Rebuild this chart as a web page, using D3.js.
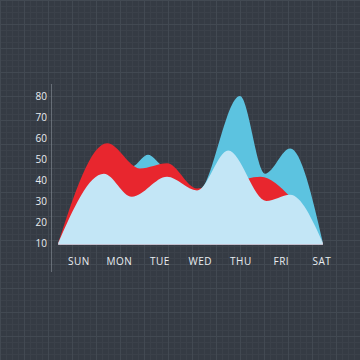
<!DOCTYPE html>
<html><head><meta charset="utf-8">
<script src="https://cdn.jsdelivr.net/npm/d3@7"></script>
<style>html,body{margin:0;padding:0;background:#353b44;}svg{display:block;}</style>
</head><body>
<svg id="c" width="360" height="360"></svg>
<script>
// Data (x in day units: 0 = SUN ... 6 = SAT)
const days = ["SUN","MON","TUE","WED","THU","FRI","SAT"];
const yTicks = [10,20,30,40,50,60,70,80];
const darkX = [-0.50, 0.63, 1.40, 1.72, 2.05, 2.93, 3.99, 4.61, 5.23, 6.04];
const darkV = [10, 40, 47, 52, 47, 34, 80, 43, 55, 10];
const redX  = [-0.50, 0.71, 1.52, 2.19, 2.93, 3.82, 4.50, 5.23, 6.04];
const redV  = [10, 57.5, 45.5, 48, 36, 39, 41.5, 32, 10];
const lightX = [-0.50, 0.63, 1.32, 2.19, 2.93, 3.70, 4.64, 5.23, 6.04];
const lightV = [10, 43, 32, 41.5, 35, 54, 30, 33, 10];

const svg = d3.select("#c");
const W = 360, H = 360;

// background grid
const bg = svg.append("g");
bg.append("rect").attr("width", W).attr("height", H).attr("fill", "#353b44");
const minor = d3.range(0, W + 1, 6);
bg.selectAll(".mv").data(minor).join("line")
  .attr("x1", d => d + 0.5).attr("x2", d => d + 0.5).attr("y1", 0).attr("y2", H)
  .attr("stroke", "#3b414a").attr("stroke-width", 1);
bg.selectAll(".mh").data(minor).join("line")
  .attr("y1", d => d + 0.5).attr("y2", d => d + 0.5).attr("x1", 0).attr("x2", W)
  .attr("stroke", "#3b414a").attr("stroke-width", 1);
const major = d3.range(0, W + 1, 24);
bg.selectAll(".Mv").data(major).join("line")
  .attr("x1", d => d + 0.5).attr("x2", d => d + 0.5).attr("y1", 0).attr("y2", H)
  .attr("stroke", "#424952").attr("stroke-width", 1);
bg.selectAll(".Mh").data(major).join("line")
  .attr("y1", d => d + 0.5).attr("y2", d => d + 0.5).attr("x1", 0).attr("x2", W)
  .attr("stroke", "#424952").attr("stroke-width", 1);

const x = d3.scaleLinear().domain([0, 6]).range([78.4, 321.3]);
const y = d3.scaleLinear().domain([10, 80]).range([243, 96]);
const base = y(9.2);

function drawArea(xs, vs, color) {
  const pts = xs.map((d, i) => [d, vs[i]]);
  const area = d3.area()
    .x(d => x(d[0])).y0(base).y1(d => y(d[1]))
    .curve(d3.curveMonotoneX);
  svg.append("path").datum(pts).attr("d", area).attr("fill", color);
}
drawArea(darkX, darkV, "#5cc3e0");
drawArea(redX, redV, "#e8262e");
drawArea(lightX, lightV, "#c3e6f6");

// axis line
svg.append("line").attr("x1", 51.5).attr("x2", 51.5).attr("y1", 84).attr("y2", 272)
  .attr("stroke", "#7c838c").attr("stroke-width", 1).attr("opacity", 0.7);

// y labels
const yAxis = d3.axisLeft(y).tickValues(yTicks).tickSize(0).tickPadding(0);
const gy = svg.append("g").attr("transform", "translate(47,0)").call(yAxis);
gy.select(".domain").remove();
gy.selectAll("text").attr("fill", "#e9edf1").attr("font-family", "Open Sans, sans-serif")
  .attr("font-size", 10);

// x labels
const xAxis = d3.axisBottom(x).tickValues(d3.range(7)).tickFormat(i => days[i]).tickSize(0).tickPadding(0);
const gx = svg.append("g").attr("transform", "translate(0,258)").call(xAxis);
gx.select(".domain").remove();
gx.selectAll("text").attr("fill", "#e9edf1").attr("font-family", "Open Sans, sans-serif")
  .attr("font-size", 10).attr("letter-spacing", "0.5px");
</script>
</body></html>
